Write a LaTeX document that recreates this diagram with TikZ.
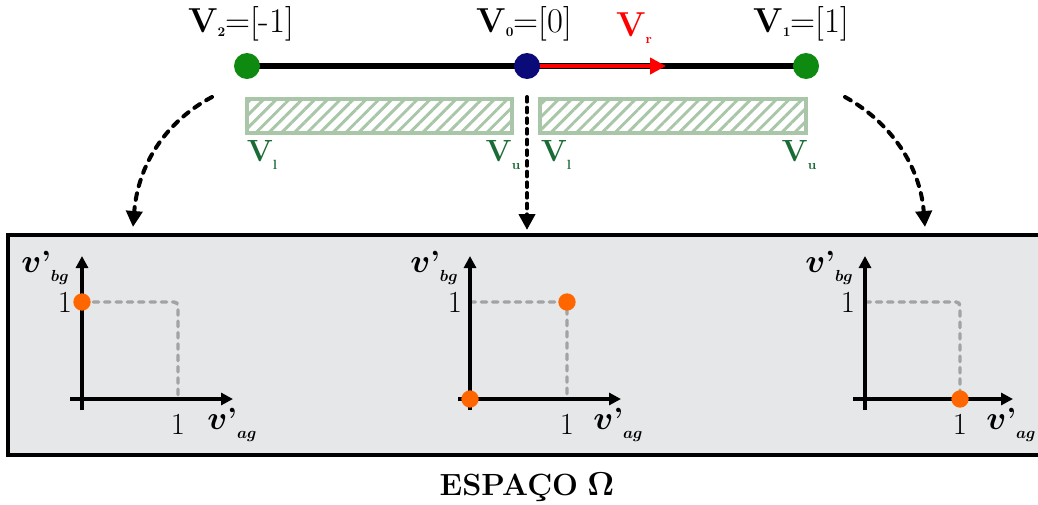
\documentclass[tikz,border=0pt]{standalone}
\usepackage{amsmath,bm}
\usetikzlibrary{patterns.meta,arrows.meta}
\definecolor{vgreen}{HTML}{0E8A10}
\definecolor{vnavy}{HTML}{0A0A78}
\definecolor{hatchc}{HTML}{A9C6A9}
\definecolor{lblgreen}{HTML}{1B6B36}
\definecolor{boxgray}{HTML}{E6E7E9}
\definecolor{dgray}{HTML}{A3A3A3}
\definecolor{dotorange}{HTML}{FF6600}
\newcommand{\axlab}[1]{$\bm{v}$\textbf{'}\raisebox{-7pt}{\fontsize{12}{12}\selectfont$\bm{#1}$}}
\newcommand{\vsub}[2]{\textbf{V}\raisebox{#2}{\fontsize{10}{10}\selectfont\textbf{#1}}}
\begin{document}
\begin{tikzpicture}[x=0.75pt,y=-0.75pt,
  big/.style={font=\fontsize{23}{27}\selectfont, inner sep=0pt},
  top/.style={font=\fontsize{26}{30}\selectfont, inner sep=0pt},
  dotv/.style={circle, minimum size=19.5pt, inner sep=0pt},
  odot/.style={circle, fill=dotorange, minimum size=13pt, inner sep=0pt},
  hatchbox/.style={draw=hatchc, line width=3pt, fill=white,
     pattern={Lines[angle=45,distance=6.8pt,line width=2.2pt]}, pattern color=hatchc},
  bendarrow/.style={line width=3pt, dash pattern=on 5pt off 5.5pt, line cap=round,
     -{Triangle[length=12pt,width=12pt]}},
  axis/.style={line width=3pt, -{Triangle[length=9pt,width=9pt]}},
  guide/.style={dgray, line width=2.6pt, dash pattern=on 4pt off 4.5pt, line cap=round, rounded corners=3pt},
]
\clip (0,0) rectangle (1038,504);
\useasboundingbox (0,0) rectangle (1038,504);

% top line
\coordinate (c2) at (247,66);
\coordinate (c0) at (527,66);
\coordinate (c1) at (806,66);
\coordinate (cr) at (666,66);
\draw[line width=3.8pt] (c2) -- (c1);
\draw[red, line width=3.4pt, -{Triangle[length=12pt,width=12pt]}] (c0) -- (cr);
\node[dotv, fill=vgreen] (v2) at (c2) {};
\node[dotv, fill=vnavy] (v0) at (c0) {};
\node[dotv, fill=vgreen] (v1) at (c1) {};

\node[top] (l2) at (241,24) {\vsub{2}{-3pt}=[-1]};
\node[top] (l0) at (524,24) {\vsub{0}{-3pt}=[0]};
\node[top] (l1) at (801,24) {\vsub{1}{-3pt}=[1]};
\node[top, red] (lr) at (634,28) {\vsub{r}{-5pt}};

% hatched boxes
\draw[hatchbox] (247,99) rectangle (512,133);
\draw[hatchbox] (540,99) rectangle (806,133);
\node[big, lblgreen] (vl1) at (262,155) {\vsub{l}{-6pt}};
\node[big, lblgreen] (vu1) at (503,155) {\vsub{u}{-6pt}};
\node[big, lblgreen] (vl2) at (556,155) {\vsub{l}{-6pt}};
\node[big, lblgreen] (vu2) at (799,155) {\vsub{u}{-6pt}};

% gray space box
\draw[fill=boxgray, line width=3pt] (8,235) rectangle (1050,455);

% arrows
\coordinate (sa) at (212,97);
\coordinate (ea) at (133,227);
\coordinate (sb) at (527,97);
\coordinate (eb) at (527,230);
\coordinate (sc) at (845,97);
\coordinate (ec) at (925,227);
\draw[bendarrow] (sa) .. controls (165,122) and (138,165) .. (ea);
\draw[bendarrow, dash pattern=on 3.5pt off 4.5pt] (sb) -- (eb);
\draw[bendarrow] (sc) .. controls (890,122) and (920,165) .. (ec);

% plot 1
\coordinate (y1) at (82,256);
\coordinate (x1) at (233,399);
\draw[guide] (82,302) -| (178,399);
\draw[axis] (82,410) -- (y1);
\draw[axis] (70,399) -- (x1);
\node[odot] (d1) at (82,302) {};
\node[big] (t1a) at (65,302) {1};
\node[big] (t1b) at (178,424) {1};
\node[big] (ab1) at (45,268) {\axlab{bg}};
\node[big] (aa1) at (232,425) {\axlab{ag}};

% plot 2
\coordinate (y2) at (470,256);
\coordinate (x2) at (621,399);
\draw[guide] (470,302) -| (567,399);
\draw[axis] (470,410) -- (y2);
\draw[axis] (458,399) -- (x2);
\node[odot] (d2a) at (567,302) {};
\node[odot] (d2b) at (470,399) {};
\node[big] (t2a) at (455,302) {1};
\node[big] (t2b) at (567,424) {1};
\node[big] (ab2) at (434,268) {\axlab{bg}};
\node[big] (aa2) at (618,425) {\axlab{ag}};

% plot 3
\coordinate (y3) at (865,256);
\coordinate (x3) at (1013,399);
\draw[guide] (865,302) -| (960,399);
\draw[axis] (865,410) -- (y3);
\draw[axis] (853,399) -- (x3);
\node[odot] (d3) at (960,399) {};
\node[big] (t3a) at (848,302) {1};
\node[big] (t3b) at (960,424) {1};
\node[big] (ab3) at (829,268) {\axlab{bg}};
\node[big] (aa3) at (1011,425) {\axlab{ag}};

\node[big] (title) at (527,487) {\textbf{ESPAÇO} $\bm{\Omega}$};
\end{tikzpicture}
\end{document}
